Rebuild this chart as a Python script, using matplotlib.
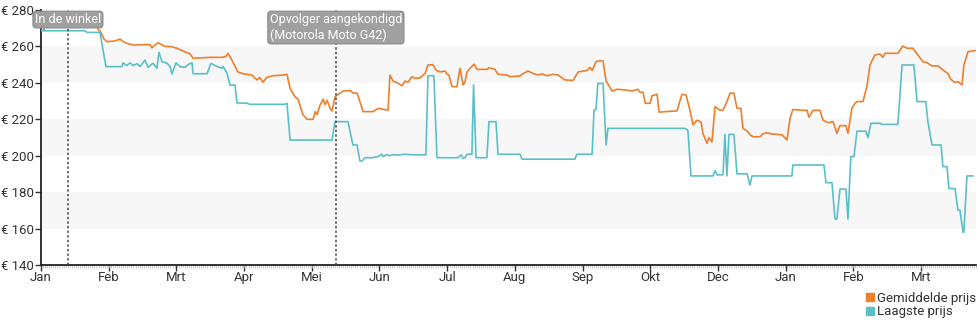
import matplotlib
matplotlib.use("Agg")
import matplotlib.pyplot as plt
from matplotlib.lines import Line2D
from matplotlib.ticker import MultipleLocator
import matplotlib.transforms as mtransforms

plt.rcParams['font.family'] = ['Roboto', 'DejaVu Sans']

# ---- data (x = days since start of series) ----
avg_days = [0, 1.5, 1.9, 10.7, 11.2, 23.8, 24.8, 27.2, 28.2, 28.7, 30.7, 32.1, 36.0, 38.4, 40.9,
            44.8, 53.0, 54.0, 56.9, 60.3, 62.8, 66.2, 70.1, 72.5, 74.0, 82.2, 88.1, 90.0, 91.0,
            92.9, 95.8, 98.3, 102.6, 105.1, 106.5, 108.0, 109.9, 112.9, 117.8, 119.7, 121.2,
            123.6, 125.1, 127.5, 129.5, 132.4, 133.4, 134.3, 135.8, 137.3, 138.2, 139.2, 140.7,
            141.6, 143.1, 145.5, 147.0, 150.4, 151.8, 153.8, 155.2, 156.7, 161.6, 164.0, 166.4,
            168.9, 169.8, 171.3, 173.7, 175.7, 177.1, 178.6, 180.5, 182.0, 184.4, 186.9, 188.3,
            190.7, 192.2, 194.2, 196.6, 197.6, 198.5, 200.0, 202.4, 203.9, 205.4, 206.3, 207.3,
            208.8, 210.7, 212.2, 217.0, 218.0, 220.9, 222.4, 226.8, 228.2, 233.1, 234.5, 237.0,
            239.4, 241.8, 243.8, 246.2, 249.1, 251.6, 255.0, 258.9, 261.4, 265.7, 267.2, 268.2,
            270.1, 272.0, 273.5, 275.0, 277.9, 280.3, 285.2, 287.6, 290.5, 291.5, 293.0, 294.0,
            296.4, 297.4, 299.8, 300.8, 303.7, 309.5, 311.9, 313.9, 315.8, 317.3, 319.2, 321.2,
            322.1, 324.1, 325.0, 326.5, 328.0, 330.4, 331.9, 333.8, 335.3, 337.2, 338.7, 340.6,
            341.6, 343.6, 345.0, 346.5, 349.9, 351.3, 353.3, 355.7, 360.6, 363.0, 364.5, 365.9,
            369.3, 372.8, 373.7, 375.7, 379.1, 380.5, 383.0, 385.4, 387.3, 388.8, 391.7, 392.7,
            394.6, 396.1, 397.1, 400.0, 401.9, 403.4, 405.8, 408.3, 409.7, 410.7, 417.0, 419.4,
            421.4, 424.3, 426.7, 429.2, 431.1, 433.6, 436.5, 438.9, 441.3, 442.8, 444.8, 446.2,
            448.2, 449.1, 451.1, 454.5]
avg_price = [269, 269, 278, 278, 277, 277, 270.8, 270.8, 268.6, 268.6, 264, 262.6, 263, 264, 262,
             260.8, 261, 259.3, 262, 260, 260, 259, 257, 256, 253.5, 254, 254, 254.5, 256.2,
             252.5, 246, 245, 244.3, 241.6, 243, 240.3, 243, 243.9, 244.3, 244.7, 237,
             232.4, 231, 222.4, 220, 220, 224.2, 222.5, 227.8, 231, 228, 230.5, 226,
             224.5, 232.4, 234.3, 235.5, 235.8, 234.5, 234.3, 229.7, 224.2, 224.2, 226, 225.5,
             225, 244.3, 241, 239.8, 238.4, 241, 240.3, 243.4, 242.5, 242.7, 245.2, 249.8,
             250, 247, 246, 246.5, 244.7, 244.3, 237.9, 237.9, 248, 238.8, 240.3, 246,
             248, 250.2, 247.4, 247.4, 248.3, 247.4, 244.7, 244.3, 243.4, 243.8, 245, 246.5,
             245.2, 244.3, 244.9, 243.9, 244.7, 244.3, 241.6, 241.3, 246, 246.8, 248.5, 246.8,
             251.6, 252.2, 252, 241, 235.5, 236.5, 236, 235.5, 236.5, 234.8, 234.8, 228.8,
             228.8, 233, 233.7, 223.9, 224.2, 224.6, 233.7, 233.3, 225, 216.9, 219.5, 218.5,
             212.3, 206.8, 210, 207.5, 226.9, 225, 225, 229.7, 234.3, 234.3, 226, 226,
             215, 213.6, 211.5, 210.4, 210.4, 212, 212.6, 211.9, 211.5, 208.6, 220.5, 225.4,
             225, 224.9, 221.1, 224.9, 224.9, 219.6, 218.1, 218.7, 212.3, 216.5, 216.5, 212.3,
             226, 228.8, 229.7, 229.7, 237.9, 249.8, 255.3, 255.8, 254, 256.2, 256.2, 260.2,
             259, 259, 255.3, 251.6, 251.1, 249.3, 249.3, 247, 245.2, 241.9, 240.1, 240.7,
             238.8, 249.8, 257.1, 257.7]

low_days = [0, 21.4, 22.4, 28.7, 31.6, 39.4, 39.9, 41.8, 43.3, 44.8, 46.7, 48.2, 50.6, 52.1, 54.5,
            56.4, 57.4, 58.9, 61.3, 62.8, 63.7, 65.7, 67.6, 70.1, 71.5, 73.5, 74.0, 80.8, 82.7,
            85.6, 88.1, 88.6, 90.5, 92.0, 94.4, 95.4, 100.2, 101.7, 118.7, 119.7, 121.2, 141.6,
            143.1, 149.4, 151.8, 153.8, 155.2, 156.2, 157.7, 161.1, 164.0, 165.9, 166.4, 168.4,
            169.8, 171.3, 173.7, 177.1, 180.5, 187.3, 188.3, 191.2, 192.7, 202.9, 204.4, 205.4,
            206.3, 207.3, 209.7, 210.5, 211.7, 217.0, 218.0, 221.4, 222.4, 233.1, 234.1, 259.8,
            260.8, 268.2, 269.1, 270.1, 271.0, 273.5, 275.0, 275.9, 313.4, 314.8, 316.3, 327.0,
            328.0, 329.0, 331.9, 332.8, 333.8, 334.8, 337.2, 338.7, 343.6, 345.0, 346.0, 365.4,
            365.9, 381.0, 382.0, 384.9, 386.4, 387.3, 388.8, 391.7, 392.7, 394.1, 395.6, 397.1,
            401.4, 402.4, 403.9, 408.3, 409.2, 417.0, 419.0, 424.8, 426.3, 430.6, 431.6, 433.6,
            438.0, 438.9, 440.9, 441.8, 444.8, 446.2, 447.2, 448.7, 449.1, 450.6, 453.5]
low_price = [268.6, 268.6, 267.7, 267.7, 248.9, 248.9, 251, 249.5, 251, 249.5, 250.5, 249, 252.5,
             248.5, 250.8, 248, 256.8, 251.6, 250.8, 249, 244.9, 251, 248.9, 248.5, 250, 251,
             245, 245, 250.7, 249, 248, 249, 245.4, 238.8, 238.8, 229, 228.8, 228.2, 228.2,
             228.8, 208.6, 208.6, 218.7, 218.7, 205.9, 205.9, 197.1, 197.1, 198.9, 198.9,
             199.5, 200.9, 199.5, 200.6, 200, 200.6, 200.4, 200.8, 200.5, 200.5, 243.9, 243.9,
             198.9, 198.9, 200.4, 198.5, 199, 200.8, 200.8, 239, 198.9, 198.9, 218.7, 218.7,
             200.8, 200.8, 198.1, 198.1, 200.8, 200.8, 225, 225.5, 239.7, 239.7, 205.9, 215,
             215, 214, 188.9, 188.9, 191.8, 189.5, 189.5, 211.7, 188.9, 211.7, 211.7, 190,
             190, 183.9, 188.9, 188.9, 194.9, 194.9, 185.2, 185.2, 165.2, 165.2, 181.7, 181.7,
             165.2, 199.5, 199.5, 213.5, 213.5, 209.9, 217.8, 217.8, 217.2, 217.2, 249.8, 249.8,
             229.7, 229.7, 218.7, 205.9, 205.9, 194, 194, 182, 182, 170.2, 170, 158, 158,
             188.9, 188.9]

tick_labels = ['Jan', 'Feb', 'Mrt', 'Apr', 'Mei', 'Jun', 'Jul', 'Aug', 'Sep', 'Okt',
               'Dec', 'Jan', 'Feb', 'Mrt']
tick_step_days = 32.94
y_ticks = [140, 160, 180, 200, 220, 240, 260, 280]
bands = [(240, 260), (200, 220), (160, 180)]
events = [(13.1, 'In de winkel'), (143.5, 'Opvolger aangekondigd\n(Motorola Moto G42)')]
series_names = ['Gemiddelde prijs', 'Laagste prijs']

# ---- styling ----
c_avg = '#ee7f2d'
c_low = '#5bbfc8'
txt_col = '#333333'

fig = plt.figure(figsize=(9.8, 3.25), dpi=100)
ax = fig.add_axes([41/980, 1-265/325, 935/980, 255/325])

for lo, hi in bands:
    ax.axhspan(lo, hi, color='#f7f7f7', lw=0, zorder=0)

ax.plot(avg_days, avg_price, color=c_avg, lw=1.2, zorder=3)
ax.plot(low_days, low_price, color=c_low, lw=1.2, zorder=3)

ax.set_xlim(0, 455)
ax.set_ylim(140, 280)

ax.set_xticks([i * tick_step_days for i in range(len(tick_labels))])
ax.set_xticklabels(tick_labels)
ax.xaxis.set_minor_locator(MultipleLocator(1))
ax.tick_params(axis='x', which='major', length=4, width=1, color='#333333', pad=0,
               labelsize=9.5, labelcolor=txt_col)
ax.tick_params(axis='x', which='minor', length=2, width=0.5, color='#bbbbbb')

ax.set_yticks(y_ticks)
ax.set_yticklabels(['€ %d' % v for v in y_ticks])
ax.tick_params(axis='y', which='major', length=4, width=1, color='#333333', pad=1,
               labelsize=9.5, labelcolor=txt_col)

for s in ['top', 'right']:
    ax.spines[s].set_visible(False)
for s in ['left', 'bottom']:
    ax.spines[s].set_color('#222222')
    ax.spines[s].set_linewidth(1.3)

trans = mtransforms.blended_transform_factory(ax.transData, ax.transAxes)
for xd, label in events:
    ax.axvline(xd, color='#444444', lw=1.1, ls=(0, (1.5, 1.5)), zorder=4)
    ax.text(xd, 0.988, label, transform=trans, ha='center', va='top', color='white',
            multialignment='left', fontsize=9, linespacing=1.25, zorder=6,
            bbox=dict(boxstyle='round,pad=0.15,rounding_size=0.25', fc='#a0a0a0',
                      ec='#8a8a8a', lw=0.8))

handles = [Line2D([], [], ls='', marker='s', ms=5.5, color=c) for c in (c_avg, c_low)]
fig.legend(handles, series_names, loc='upper right', bbox_to_anchor=(1.0, 0.115),
           frameon=False, handlelength=0.6, handletextpad=0.25, labelspacing=0.05,
           borderpad=0.1, borderaxespad=0.2, fontsize=9.5, labelcolor=txt_col)

fig.savefig('out.png', dpi=100)
